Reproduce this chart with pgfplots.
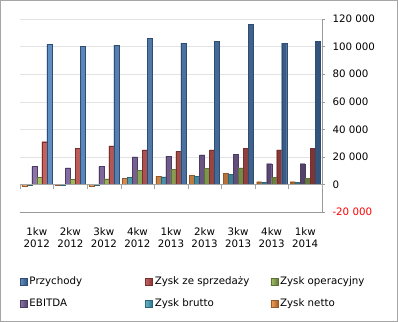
\documentclass[border=0pt]{standalone}
\usepackage{pgfplots}
\pgfplotsset{compat=1.18}
\usepackage{fontspec}
\setmainfont{DejaVu Sans}
\definecolor{cBlue}{HTML}{4F81BD}
\definecolor{cRed}{HTML}{C0504D}
\definecolor{cGreen}{HTML}{9BBB59}
\definecolor{cPurple}{HTML}{8064A2}
\definecolor{cTeal}{HTML}{4BACC6}
\definecolor{cOrange}{HTML}{F79646}
\pgfplotsset{
  barsty/.style={fill=#1, left color=#1!90!white, right color=#1!65!black, draw=#1!60!black, line width=0.3pt},
}
\begin{document}
\begin{tikzpicture}
\useasboundingbox (0,0) rectangle (398bp,322bp);
\draw[color=gray!70] (0.5bp,0.5bp) rectangle (397.5bp,321.5bp);
\begin{axis}[
  at={(20bp,110bp)}, anchor=south west, scale only axis,
  width=302bp, height=193bp,
  font=\fontsize{10.3}{12.5}\selectfont,
  xmin=-0.5, xmax=8.5, ymin=-20000, ymax=120000,
  scaled ticks=false,
  axis y line*=right, axis x line*=bottom,
  axis line style={gray!80},
  ytick={-20000,0,20000,40000,60000,80000,100000,120000},
  yticklabels={{\textcolor{red}{-20 000}},0,{20 000},{40 000},{60 000},{80 000},{100 000},{120 000}},
  yticklabel style={xshift=4bp},
  ytick style={gray!80},
  tick align=outside, major tick length=3bp,
  ymajorgrids, grid style={gray!22},
  xtick={0,...,8},
  xticklabels={{1kw\\2012},{2kw\\2012},{3kw\\2012},{4kw\\2012},{1kw\\2013},{2kw\\2013},{3kw\\2013},{4kw\\2013},{1kw\\2014}},
  xticklabel style={align=center, yshift=-9bp},
  x tick style={draw=none},
  ybar=0pt, bar width=5bp,
  legend columns=3, reverse legend,
  legend cell align=left,
  legend style={at={(axis description cs:0,-0.325)}, anchor=north west, draw=none, fill=none, row sep=9bp, inner sep=0pt, font=\fontsize{10.3}{12.5}\selectfont},
  legend image code/.code={\fill[#1] (0bp,-3.5bp) rectangle (7bp,3.5bp);},
]
\addplot[barsty=cOrange] coordinates {(0,-1000) (1,-800) (2,-900) (3,4500) (4,6000) (5,6500) (6,8000) (7,2000) (8,2000)};
\addlegendentry{\makebox[114bp][l]{Zysk netto}}
\addplot[barsty=cTeal] coordinates {(0,-500) (1,-600) (2,-700) (3,5000) (4,5500) (5,6000) (6,7500) (7,1500) (8,1500)};
\addlegendentry{\makebox[114bp][l]{Zysk brutto}}
\addplot[barsty=cPurple] coordinates {(0,13000) (1,12000) (2,13000) (3,20000) (4,20500) (5,21500) (6,22000) (7,15000) (8,15000)};
\addlegendentry{\makebox[114bp][l]{EBITDA}}
\addplot[barsty=cGreen] coordinates {(0,5000) (1,3500) (2,4000) (3,10000) (4,11000) (5,11500) (6,12000) (7,5000) (8,4500)};
\addlegendentry{\makebox[114bp][l]{Zysk operacyjny}}
\addplot[barsty=cRed] coordinates {(0,31000) (1,26000) (2,28000) (3,25000) (4,24000) (5,25000) (6,26000) (7,25000) (8,26000)};
\addlegendentry{\makebox[114bp][l]{Zysk ze sprzedaży}}
\addplot[barsty=cBlue] coordinates {(0,101500) (1,100000) (2,101000) (3,106000) (4,102500) (5,104000) (6,116000) (7,102500) (8,104000)};
\addlegendentry{\makebox[114bp][l]{Przychody}}
\end{axis}
\begin{axis}[
  at={(20bp,110bp)}, anchor=south west, scale only axis,
  width=302bp, height=193bp,
  xmin=-0.5, xmax=8.5, ymin=-20000, ymax=120000,
  scaled ticks=false,
  axis x line=middle, axis y line=none,
  x axis line style={-, gray!70},
  xtick={-0.5,0.5,...,8.5}, xticklabels={}, ytick=\empty,
  xtick style={gray!70}, tick align=outside, major tick length=5bp,
]
\end{axis}
\end{tikzpicture}
\end{document}
